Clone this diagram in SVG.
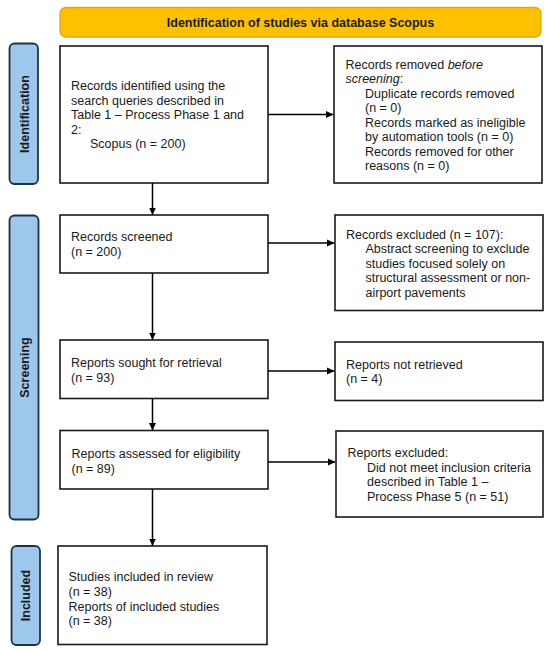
<svg xmlns="http://www.w3.org/2000/svg" width="550" height="652" viewBox="0 0 550 652">
<defs>
<marker id="ah" markerWidth="8" markerHeight="8" refX="7" refY="4" orient="auto" markerUnits="userSpaceOnUse">
<path d="M0,0.5 L7.5,4 L0,7.5 Z" fill="#000"/>
</marker>
<style>
text{font-family:"Liberation Sans",Arial,sans-serif;font-size:12.5px;fill:#1a1a1a}
.box{fill:#fff;stroke:#1a1a1a;stroke-width:1.6}
.bar{fill:#9dc8ec;stroke:#1e3246;stroke-width:1.8}
.hdr{fill:#ffc000;stroke:#e0a810;stroke-width:1.3}
.b{font-weight:bold}
.conn line{stroke:#000;stroke-width:1.5;marker-end:url(#ah)}
</style>
</defs>
<rect width="550" height="652" fill="#fff"/>

<g id="header">
<rect class="hdr" x="60" y="7.5" width="481" height="29.5" rx="6"/>
<text class="b" x="300.5" y="27.3" text-anchor="middle">Identification of studies via database Scopus</text>
</g>

<g id="phase-identification">
<rect class="bar" x="9.5" y="43.5" width="28.5" height="140.5" rx="5"/>
<text class="b" transform="translate(28.5,114) rotate(-90)" text-anchor="middle">Identification</text>
</g>
<g id="phase-screening">
<rect class="bar" x="9.5" y="215.5" width="29" height="304" rx="5"/>
<text class="b" transform="translate(28.5,367.5) rotate(-90)" text-anchor="middle">Screening</text>
</g>
<g id="phase-included">
<rect class="bar" x="11.5" y="546" width="28.5" height="99" rx="5"/>
<text class="b" transform="translate(30,595.5) rotate(-90)" text-anchor="middle">Included</text>
</g>

<g id="records-identified">
<rect class="box" x="60" y="46" width="208" height="137"/>
<text x="71" y="90">Records identified using the</text>
<text x="71" y="104.5">search queries described in</text>
<text x="71" y="119">Table 1 – Process Phase 1 and</text>
<text x="71" y="133.5">2:</text>
<text x="90" y="148">Scopus (n = 200)</text>
</g>

<g id="records-removed">
<rect class="box" x="334" y="46" width="208" height="137"/>
<text x="345.5" y="68.5">Records removed <tspan font-style="italic">before</tspan></text>
<text x="345.5" y="83"><tspan font-style="italic">screening</tspan>:</text>
<text x="365" y="97.5">Duplicate records removed</text>
<text x="365" y="112">(n = 0)</text>
<text x="365" y="126.5">Records marked as ineligible</text>
<text x="365" y="141">by automation tools (n = 0)</text>
<text x="365" y="155.5">Records removed for other</text>
<text x="365" y="170">reasons (n = 0)</text>
</g>

<g id="records-screened">
<rect class="box" x="60" y="215" width="208" height="58"/>
<text x="71" y="241">Records screened</text>
<text x="71" y="255.5">(n = 200)</text>
</g>

<g id="records-excluded">
<rect class="box" x="335" y="215" width="208" height="95.5"/>
<text x="346" y="238.5">Records excluded (n = 107):</text>
<text x="365.5" y="253">Abstract screening to exclude</text>
<text x="365.5" y="267.5">studies focused solely on</text>
<text x="365.5" y="282">structural assessment or non-</text>
<text x="365.5" y="296.5">airport pavements</text>
</g>

<g id="reports-sought">
<rect class="box" x="60" y="340" width="208" height="58.5"/>
<text x="71" y="367">Reports sought for retrieval</text>
<text x="71" y="381.5">(n = 93)</text>
</g>

<g id="reports-not-retrieved">
<rect class="box" x="335" y="342" width="208" height="58.5"/>
<text x="346" y="368.5">Reports not retrieved</text>
<text x="346" y="383">(n = 4)</text>
</g>

<g id="reports-assessed">
<rect class="box" x="60" y="430.5" width="208" height="58.5"/>
<text x="71.5" y="458">Reports assessed for eligibility</text>
<text x="71.5" y="472.5">(n = 89)</text>
</g>

<g id="reports-excluded">
<rect class="box" x="336" y="431" width="207" height="86"/>
<text x="347.5" y="457">Reports excluded:</text>
<text x="367" y="471.5">Did not meet inclusion criteria</text>
<text x="367" y="486">described in Table 1 –</text>
<text x="367" y="500.5">Process Phase 5 (n = 51)</text>
</g>

<g id="studies-included">
<rect class="box" x="58" y="546" width="209" height="98.5"/>
<text x="68.5" y="581">Studies included in review</text>
<text x="68.5" y="595.5">(n = 38)</text>
<text x="68.5" y="610.5">Reports of included studies</text>
<text x="68.5" y="625">(n = 38)</text>
</g>

<g id="connectors" class="conn">
<line x1="268" y1="114.5" x2="333" y2="114.5"/>
<line x1="152.5" y1="183" x2="152.5" y2="214.5"/>
<line x1="268" y1="243" x2="334" y2="243"/>
<line x1="152.5" y1="273" x2="152.5" y2="339.5"/>
<line x1="268" y1="371" x2="334" y2="371"/>
<line x1="152.5" y1="398.5" x2="152.5" y2="430"/>
<line x1="268" y1="462" x2="335" y2="462"/>
<line x1="152.5" y1="489" x2="152.5" y2="545.5"/>
</g>
</svg>
